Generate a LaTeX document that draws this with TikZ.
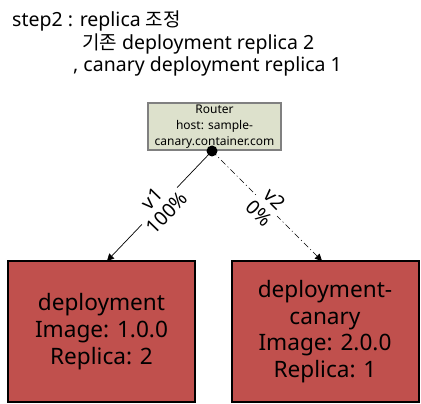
\documentclass[tikz,border=0pt]{standalone}
\usepackage{fontspec}
\setmainfont{Noto Sans}
\newfontfamily\kr{Noto Sans CJK KR}
\usetikzlibrary{arrows.meta}
\definecolor{routerfill}{RGB}{221,225,204}
\definecolor{routerline}{RGB}{128,128,128}
\definecolor{depfill}{RGB}{192,80,77}
\begin{document}
\begin{tikzpicture}[x=1pt,y=1pt,
  routerbox/.style={draw=routerline, line width=1.5pt, fill=routerfill, minimum width=133pt, minimum height=47pt, align=center, font=\fontsize{12}{16}\selectfont, inner sep=0pt},
  depbox/.style={draw=black, line width=2pt, fill=depfill, minimum width=187pt, minimum height=141pt, align=center, font=\fontsize{22.6}{26.7}\selectfont, inner sep=0pt},
  conn/.style={line width=0.7pt, -{Triangle[length=7pt,width=7pt]}},
  lbl/.style={fill=white, align=center, font=\fontsize{19.5}{21}\selectfont, inner sep=0.5pt},
  titletxt/.style={anchor=base west, inner sep=0pt, font=\fontsize{19.5}{20}\selectfont}]
\useasboundingbox (0,0) rectangle (421,-404);
\node[titletxt] (t1) at (12,-27) {step2 : replica {\kr\fontsize{19}{20}\selectfont 조정}};
\node[titletxt] (t2) at (82,-50) {{\kr\fontsize{19}{20}\selectfont 기존} deployment replica 2};
\node[titletxt] (t3) at (73,-72) {, canary deployment replica 1};
\node[routerbox] (router) at (214.5,-126.5) {Router\\host: sample-\\canary.container.com};
\node[depbox] (dep) at (101.5,-331.5) {deployment\\Image: 1.0.0\\Replica: 2};
\node[depbox] (can) at (325,-331.5) {deployment-\\canary\\Image: 2.0.0\\Replica: 1};
\coordinate (hub) at (212,-151);
\coordinate (e1) at (107,-261);
\coordinate (e2) at (322,-261);
\draw[conn] (hub) -- (e1) node[lbl, pos=0.5, rotate=46] (l1) {v1\\100\%};
\draw[conn, dash pattern=on 6pt off 3pt on 1pt off 3pt] (hub) -- (e2) node[lbl, pos=0.5, rotate=-45] (l2) {v2\\0\%};
\fill (hub) circle (5.5pt);
\end{tikzpicture}
\end{document}
